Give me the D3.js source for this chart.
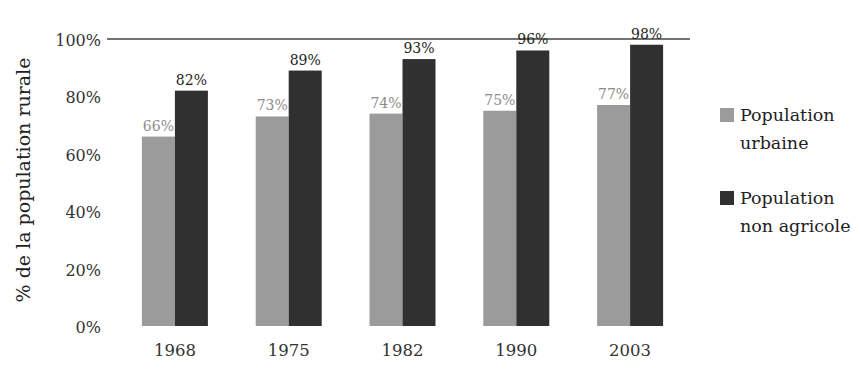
<!DOCTYPE html>
<html>
<head>
<meta charset="utf-8">
<script src="https://cdn.jsdelivr.net/npm/d3@7"></script>
<style>
  html, body { margin: 0; padding: 0; background: #fff; }
  svg { display: block; }
  text { font-family: "DejaVu Serif", "Liberation Serif", serif; }
</style>
</head>
<body>
<svg id="chart" width="861" height="372"></svg>
<script>
// Census years and shares (%) of the rural population
const years = ["1968", "1975", "1982", "1990", "2003"];
const urbaine = [66, 73, 74, 75, 77];
const nonAgricole = [82, 89, 93, 96, 98];
const seriesNames = ["Population urbaine", "Population non agricole"];
const seriesColors = ["#9b9b9b", "#303030"];
const yTicks = [0, 20, 40, 60, 80, 100];

const svg = d3.select("#chart");
const FONT = "DejaVu Serif, serif";

const x = d3.scaleBand().domain(years).range([118, 687]).paddingInner(0.42).paddingOuter(0.21);
const y = d3.scaleLinear().domain([0, 100]).range([326, 39]);
const xs = d3.scaleBand().domain([0, 1]).range([0, x.bandwidth()]);

const series = [urbaine, nonAgricole];

// Y axis labels (no domain line)
const yAxis = svg.append("g")
  .attr("transform", "translate(101,0)")
  .call(d3.axisLeft(y).tickValues(yTicks).tickSize(0).tickPadding(0).tickFormat(d => d + "%"));
yAxis.select(".domain").remove();
yAxis.selectAll("text")
  .attr("font-family", FONT)
  .attr("font-size", 16)
  .attr("dy", "0.4em")
  .attr("fill", "#333");

// 100% reference line
svg.append("line")
  .attr("x1", 107).attr("x2", 690)
  .attr("y1", y(100)).attr("y2", y(100))
  .attr("stroke", "#444").attr("stroke-width", 1.3);

// Bars
const groups = svg.append("g").selectAll("g")
  .data(years)
  .join("g")
  .attr("transform", d => `translate(${x(d)},0)`);

series.forEach((vals, si) => {
  groups.append("rect")
    .attr("x", xs(si))
    .attr("width", xs.bandwidth())
    .attr("y", (d, i) => y(vals[i]))
    .attr("height", (d, i) => y(0) - y(vals[i]))
    .attr("fill", seriesColors[si]);

  groups.append("text")
    .attr("x", xs(si) + xs.bandwidth() / 2)
    .attr("y", (d, i) => y(vals[i]) - 6)
    .attr("text-anchor", "middle")
    .attr("font-family", FONT)
    .attr("font-size", 14)
    .attr("fill", si === 0 ? "#8c8c8c" : "#1e1e1e")
    .text((d, i) => vals[i] + "%");
});

// X axis labels
const xAxis = svg.append("g")
  .attr("transform", `translate(0,${y(0)})`)
  .call(d3.axisBottom(x).tickSize(0).tickPadding(18));
xAxis.select(".domain").remove();
xAxis.selectAll("text")
  .attr("font-family", FONT)
  .attr("font-size", 16.5)
  .attr("fill", "#333");

// Y axis title
svg.append("text")
  .attr("transform", "translate(30,180) rotate(-90)")
  .attr("text-anchor", "middle")
  .attr("font-family", FONT)
  .attr("font-size", 19)
  .attr("fill", "#222")
  .text("% de la population rurale");

// Legend
const legendTop = [108, 191];
seriesNames.forEach((name, i) => {
  const g = svg.append("g").attr("transform", `translate(720,${legendTop[i]})`);
  g.append("rect").attr("width", 14).attr("height", 14).attr("fill", seriesColors[i]);
  const words = name.split(" ");
  const t = g.append("text").attr("x", 20).attr("y", 13)
    .attr("font-family", FONT)
    .attr("font-size", 17.5).attr("fill", "#222");
  t.append("tspan").attr("x", 20).attr("dy", 0).text(words[0]);
  t.append("tspan").attr("x", 20).attr("dy", 28).text(words.slice(1).join(" "));
});
</script>
</body>
</html>
